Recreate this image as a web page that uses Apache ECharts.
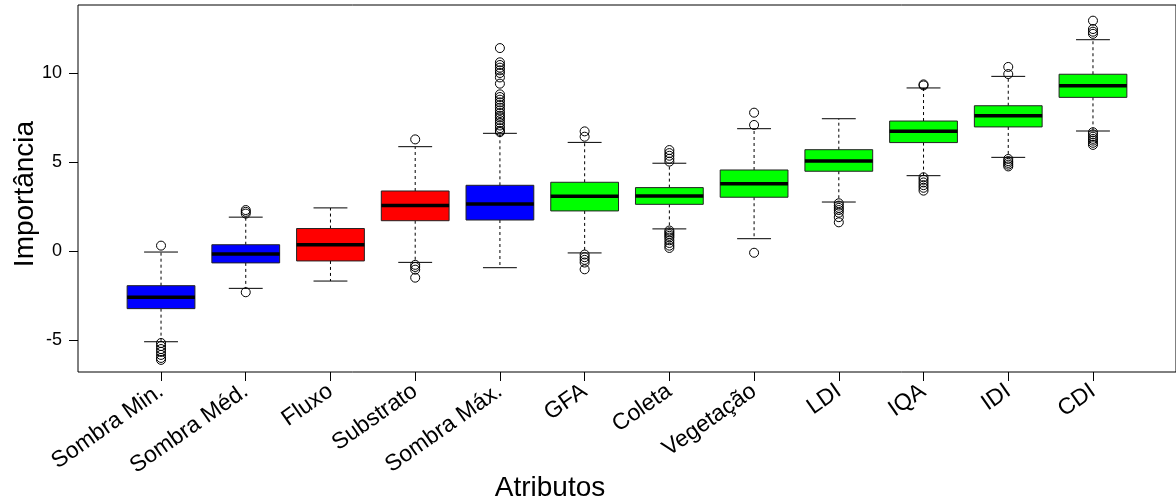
<!DOCTYPE html>
<html><head><meta charset="utf-8">
<script src="https://cdn.jsdelivr.net/npm/echarts@6/dist/echarts.min.js"></script>
<style>html,body{margin:0;padding:0;background:#fff}#c{width:1176px;height:503px}</style>
</head><body><div id="c"></div>
<script>
const categories = ['Sombra Min.','Sombra Méd.','Fluxo','Substrato','Sombra Máx.','GFA','Coleta','Vegetação','LDI','IQA','IDI','CDI'];
const status = ['shadow','shadow','rejected','rejected','shadow','confirmed','confirmed','confirmed','confirmed','confirmed','confirmed','confirmed'];
const whiskerLow  = [-5.10, -2.10, -1.69, -0.64, -0.94, -0.11, 1.24, 0.69, 2.75, 4.23, 5.26, 6.74];
const q1          = [-3.24, -0.67, -0.56, 1.70, 1.74, 2.25, 2.62, 3.02, 4.48, 6.09, 6.97, 8.63];
const medians     = [-2.60, -0.17, 0.35, 2.55, 2.64, 3.07, 3.09, 3.78, 5.06, 6.72, 7.60, 9.29];
const q3          = [-1.95, 0.35, 1.26, 3.37, 3.69, 3.86, 3.56, 4.55, 5.69, 7.30, 8.16, 9.93];
const whiskerHigh = [-0.06, 1.90, 2.42, 5.86, 6.61, 6.10, 4.93, 6.87, 7.43, 9.16, 9.81, 11.87];
const outliers = [
  [0.30, -5.17, -5.34, -5.51, -5.67, -5.84, -6.01, -6.12],
  [2.10, 2.20, 2.30, -2.32],
  [],
  [6.27, -0.78, -0.90, -1.05, -1.50],
  [11.40, 10.60, 10.45, 10.30, 10.15, 10.00, 9.75, 9.40, 8.80, 8.65, 8.50, 8.35, 8.20, 8.05, 7.90, 7.75, 7.60, 7.50, 7.35, 7.20, 7.05, 6.90, 6.75, 6.68],
  [6.72, 6.42, -0.20, -0.35, -0.50, -0.65, -1.03],
  [5.67, 5.50, 5.35, 5.18, 5.02, 1.15, 1.05, 0.95, 0.85, 0.75, 0.60, 0.45, 0.30, 0.17],
  [7.77, 7.08, -0.10],
  [2.68, 2.55, 2.42, 2.30, 2.15, 1.90, 1.61],
  [9.36, 9.30, 4.14, 4.00, 3.85, 3.70, 3.55, 3.39],
  [10.34, 9.94, 5.17, 5.05, 4.95, 4.85, 4.75],
  [12.94, 12.47, 12.32, 12.20, 6.67, 6.55, 6.42, 6.30, 6.20, 6.08, 5.96]
];
const yTicks = [-5, 0, 5, 10];
const xPositions = categories.map((c, i) => i + 1);

const statusColor = {shadow: '#0000FF', rejected: '#FF0000', confirmed: '#00FF00'};
const FONT = '"Liberation Sans", Arial, sans-serif';

const boxData = categories.map((c, i) => [i + 1, whiskerLow[i], q1[i], medians[i], q3[i], whiskerHigh[i]]);
const outData = [];
outliers.forEach((arr, i) => arr.forEach(v => outData.push([i + 1, v])));

const chart = echarts.init(document.getElementById('c'), null, {renderer: 'canvas'});
chart.setOption({
  animation: false,
  backgroundColor: '#fff',
  grid: {left: 78, top: 5, right: -1, bottom: 131, show: true, borderColor: '#000', borderWidth: 1, backgroundColor: 'transparent'},
  xAxis: {
    type: 'value', min: 0.02, max: 12.98,
    axisLine: {show: false, onZero: false}, splitLine: {show: false},
    axisTick: {show: true, length: 9, customValues: xPositions, lineStyle: {color: '#000'}},
    axisLabel: {show: true, customValues: xPositions, rotate: 35, margin: 17, color: '#000', fontSize: 23, fontFamily: FONT,
      formatter: v => categories[Math.round(v) - 1] || ''}
  },
  yAxis: {
    type: 'value', min: -6.8, max: 13.82,
    axisLine: {show: false, onZero: false}, splitLine: {show: false},
    axisTick: {show: true, length: 9, customValues: yTicks, lineStyle: {color: '#000'}},
    axisLabel: {show: true, customValues: yTicks, margin: 16, color: '#000', fontSize: 18, fontFamily: FONT}
  },
  graphic: [
    {type: 'text', x: 25, y: 194, rotation: Math.PI / 2,
     style: {text: 'Importância', font: '28px ' + FONT, fill: '#000', textAlign: 'center', textVerticalAlign: 'middle'}},
    {type: 'text', x: 550, y: 488,
     style: {text: 'Atributos', font: '28px ' + FONT, fill: '#000', textAlign: 'center', textVerticalAlign: 'middle'}}
  ],
  series: [
    {
      type: 'custom', data: boxData, z: 2,
      renderItem: (params, api) => {
        const x = api.value(0);
        const idx = params.dataIndex;
        const lo = api.coord([x, api.value(1)]);
        const b1 = api.coord([x, api.value(2)]);
        const md = api.coord([x, api.value(3)]);
        const b3 = api.coord([x, api.value(4)]);
        const hi = api.coord([x, api.value(5)]);
        const hw = api.size([0.4, 0])[0];
        const cx = lo[0];
        const dash = {stroke: '#000', lineWidth: 1, lineDash: [3, 3]};
        const solid = {stroke: '#000', lineWidth: 1};
        return {type: 'group', children: [
          {type: 'line', shape: {x1: cx, y1: b3[1], x2: cx, y2: hi[1]}, style: dash},
          {type: 'line', shape: {x1: cx, y1: b1[1], x2: cx, y2: lo[1]}, style: dash},
          {type: 'line', shape: {x1: cx - hw / 2, y1: hi[1], x2: cx + hw / 2, y2: hi[1]}, style: solid},
          {type: 'line', shape: {x1: cx - hw / 2, y1: lo[1], x2: cx + hw / 2, y2: lo[1]}, style: solid},
          {type: 'rect', shape: {x: cx - hw, y: b3[1], width: 2 * hw, height: b1[1] - b3[1]},
           style: {fill: statusColor[status[idx]], stroke: '#222', lineWidth: 1}},
          {type: 'line', shape: {x1: cx - hw, y1: md[1], x2: cx + hw, y2: md[1]}, style: {stroke: '#000', lineWidth: 3.5}}
        ]};
      }
    },
    {
      type: 'scatter', data: outData, symbol: 'circle', symbolSize: 9, z: 3,
      itemStyle: {color: 'rgba(0,0,0,0)', borderColor: '#000', borderWidth: 1, opacity: 1}
    }
  ]
});
</script></body></html>
